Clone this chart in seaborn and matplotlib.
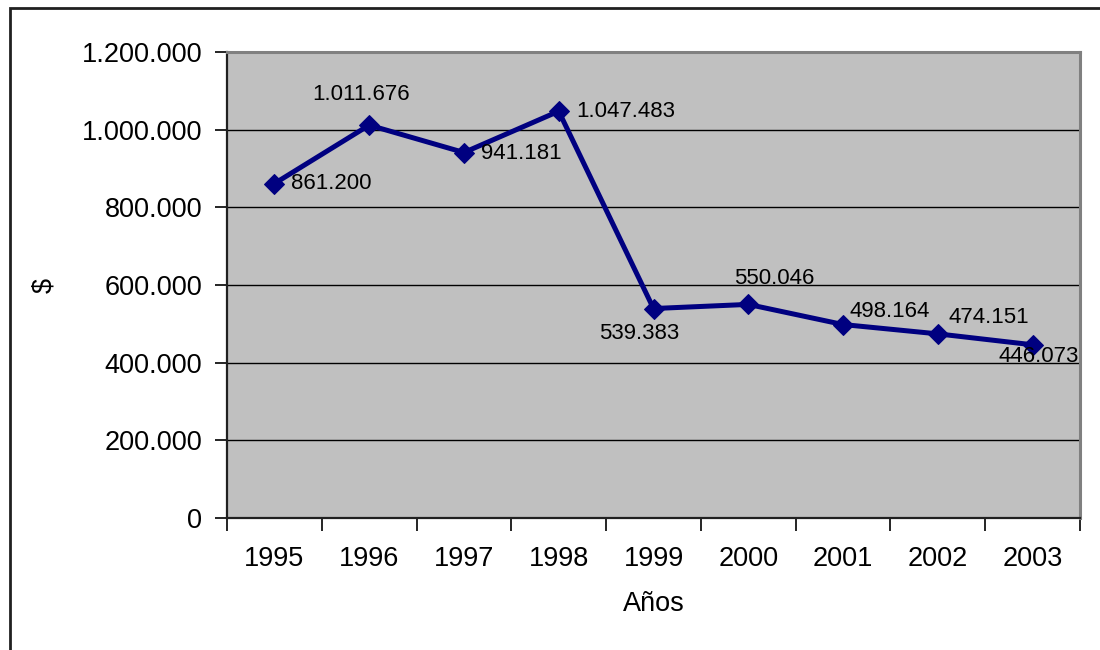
import matplotlib
matplotlib.use("Agg")
import matplotlib.pyplot as plt
from matplotlib.patches import Rectangle
from matplotlib.ticker import FixedLocator, FuncFormatter
import seaborn as sns
import pandas as pd

# Data
years = ["1995", "1996", "1997", "1998", "1999", "2000", "2001", "2002", "2003"]
values = [861200, 1011676, 941181, 1047483, 539383, 550046, 498164, 474151, 446073]
value_labels = ["861.200", "1.011.676", "941.181", "1.047.483", "539.383",
                "550.046", "498.164", "474.151", "446.073"]

# Label placement (offset in pixels from the marker, horizontal alignment)
label_offsets = [(17, 0), (-8, 31), (17, -1), (18, 0), (-14, -25),
                 (26, 26), (6, 13), (11, 16), (-34, -12)]
label_ha = ["left", "center", "left", "left", "center",
            "center", "left", "left", "left"]

sns.set_theme(style="white")
plt.rcParams["font.family"] = ["Liberation Sans", "DejaVu Sans"]
plt.rcParams.update({"text.color": "black", "axes.labelcolor": "black",
                     "xtick.color": "black", "ytick.color": "black"})

df = pd.DataFrame({"pos": range(len(years)), "valor": values})

fig = plt.figure(figsize=(11, 6.5), dpi=100)
ax = fig.add_axes([227 / 1100, 1 - 518 / 650, 853 / 1100, 466 / 650])
ax.set_facecolor("#C0C0C0")

sns.lineplot(data=df, x="pos", y="valor", ax=ax, color="#000080",
             linewidth=3.6, marker="D", markersize=10.5,
             markeredgecolor="#000080", zorder=3)

ax.set_xlim(-0.5, len(years) - 0.5)
ax.set_ylim(0, 1200000)

# Y axis
ax.yaxis.set_major_locator(FixedLocator([0, 200000, 400000, 600000, 800000, 1000000, 1200000]))
ax.yaxis.set_major_formatter(FuncFormatter(lambda v, p: f"{int(v):,}".replace(",", ".")))
ax.grid(axis="y", color="black", linewidth=1.0)
ax.grid(axis="x", visible=False)
ax.set_axisbelow(True)

# X axis: labels centred, tick marks between categories
ax.set_xticks(range(len(years)))
ax.set_xticklabels(years)
ax.xaxis.set_minor_locator(FixedLocator([i - 0.5 for i in range(len(years) + 1)]))
ax.tick_params(axis="x", which="major", length=0, pad=20, labelsize=19.5)
ax.tick_params(axis="x", which="minor", length=9, width=1.2, color="black",
               direction="out", bottom=True)
ax.tick_params(axis="y", which="major", length=9, width=1.2, color="black",
               direction="out", left=True, pad=9, labelsize=19.5)

ax.set_xlabel("Años", fontsize=19.5, labelpad=14)
ax.set_ylabel("$", fontsize=19.5, labelpad=0)
ax.yaxis.set_label_coords(-170 / 853, 0.5)

for side in ["top", "right"]:
    ax.spines[side].set_color("#808080")
    ax.spines[side].set_linewidth(2.2)
for side in ["left", "bottom"]:
    ax.spines[side].set_color("#202020")
    ax.spines[side].set_linewidth(1.6)

# Data labels
for i, (v, txt) in enumerate(zip(values, value_labels)):
    dx, dy = label_offsets[i]
    ax.annotate(txt, xy=(i, v), xytext=(dx, dy), textcoords="offset pixels",
                ha=label_ha[i], va="center", fontsize=16, color="black",
                zorder=4, annotation_clip=False)

# Chart area frame
fig.patches.append(Rectangle((10 / 1100, -0.1), 1.2, 1.1 - 8 / 650,
                             transform=fig.transFigure, fill=False,
                             edgecolor="#202020", linewidth=2.0))

fig.savefig("out.png", dpi=100, facecolor="white")
